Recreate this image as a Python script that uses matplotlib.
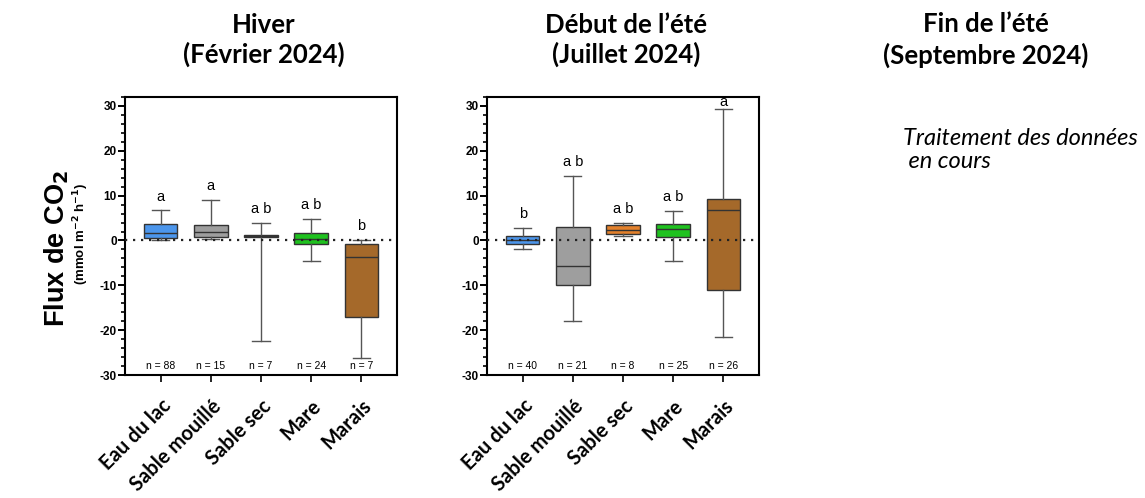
import numpy as np
import matplotlib
matplotlib.use("Agg")
import matplotlib.pyplot as plt
from matplotlib.ticker import MultipleLocator

# sites (x categories)
sites = ["Eau du lac", "Sable mouillé", "Sable sec", "Mare", "Marais"]
colors = ["#4C96EC", "#9E9E9E", "#E3812C", "#1FC21F", "#A5692A"]

# Hiver (Fevrier 2024): whisker low, q1, median, q3, whisker high
winter_lo = [0.1, 0.3, -22.4, -4.5, -26.3]
winter_q1 = [0.6, 0.7, 0.8, -0.7, -17.0]
winter_med = [1.6, 1.9, 1.0, 0.3, -3.6]
winter_q3 = [3.7, 3.4, 1.3, 1.6, -0.7]
winter_hi = [6.7, 9.1, 3.9, 4.8, 0.2]
winter_letters = ["a", "a", "a b", "a b", "b"]
winter_n = [88, 15, 7, 24, 7]

# Debut de l'ete (Juillet 2024)
summer_lo = [-1.9, -17.9, 1.1, -4.5, -21.5]
summer_q1 = [-0.7, -9.9, 1.5, 0.75, -11.0]
summer_med = [0.2, -5.8, 2.4, 2.5, 6.7]
summer_q3 = [1.1, 3.0, 3.4, 3.7, 9.2]
summer_hi = [2.8, 14.3, 4.0, 6.5, 29.3]
summer_letters = ["b", "a b", "a b", "a b", "a"]
summer_n = [40, 21, 8, 25, 26]

plt.rcParams['font.family'] = ['Liberation Sans', 'DejaVu Sans']
plt.rcParams['axes.unicode_minus'] = False
TITLE_FONT = ['Lato', 'DejaVu Sans']
W, H = 1145, 498

fig = plt.figure(figsize=(11.45, 4.98), dpi=100)
ax1 = fig.add_axes([125 / W, 1 - 375 / H, 272 / W, 278 / H])
ax2 = fig.add_axes([487 / W, 1 - 375 / H, 272 / W, 278 / H])


def draw_panel(ax, lo, q1, med, q3, hi, letters, ns, title):
    stats = []
    for i in range(len(sites)):
        stats.append({"whislo": lo[i], "q1": q1[i], "med": med[i],
                      "q3": q3[i], "whishi": hi[i], "fliers": []})
    pos = np.arange(len(sites))
    bp = ax.bxp(stats, positions=pos, widths=0.67, capwidths=0.34,
                patch_artist=True, showfliers=False,
                boxprops=dict(edgecolor="#333333", linewidth=1.0),
                medianprops=dict(color="#333333", linewidth=1.0),
                whiskerprops=dict(color="#555555", linewidth=1.0),
                capprops=dict(color="#555555", linewidth=1.0))
    for patch, c in zip(bp["boxes"], colors):
        patch.set_facecolor(c)
    ax.axhline(0, color="#222222", linestyle=(0, (1, 2.6)), linewidth=1.6, zorder=4)

    for i in range(len(sites)):
        ly = min(hi[i] + 3.1, 30.8)
        ax.text(pos[i], ly, letters[i], ha="center", va="center", fontsize=10.5)
        ax.text(pos[i], -28.0, f"n = {ns[i]}", ha="center", va="center", fontsize=7.5)

    ax.set_xlim(-0.71, 4.71)
    ax.set_ylim(-30, 32)
    ax.yaxis.set_major_locator(MultipleLocator(10))
    ax.yaxis.set_minor_locator(MultipleLocator(2))
    ax.tick_params(axis="y", which="major", length=5, width=1.4, labelsize=8.5, pad=1)
    ax.tick_params(axis="y", which="minor", length=3, width=1.2)
    ax.tick_params(axis="x", length=5, width=1.2, pad=10)
    for lab in ax.get_yticklabels():
        lab.set_fontweight("bold")
    ax.set_xticks(pos)
    ax.set_xticklabels(sites, rotation=45, ha="right", rotation_mode="anchor",
                       fontsize=14.5, fontweight="bold", family=TITLE_FONT)
    for sp in ax.spines.values():
        sp.set_linewidth(1.5)
    bb = ax.get_position()
    fig.text(bb.x0 + bb.width / 2 + 3 / W, 1 - 40 / H, title, ha="center", va="center",
             fontsize=18.5, fontweight="bold", family=TITLE_FONT, linespacing=1.2)


draw_panel(ax1, winter_lo, winter_q1, winter_med, winter_q3, winter_hi,
           winter_letters, winter_n, "Hiver\n(Février 2024)")
draw_panel(ax2, summer_lo, summer_q1, summer_med, summer_q3, summer_hi,
           summer_letters, summer_n, "Début de l’été\n(Juillet 2024)")

fig.text(57 / W, 1 - 248 / H, "Flux de CO$_\\mathbf{2}$", rotation=90,
         ha="center", va="center", fontsize=19.5, fontweight="bold")
fig.text(81 / W, 1 - 234 / H, "(mmol m$^{\\mathbf{-2}}$ h$^{\\mathbf{-1}}$)",
         rotation=90, ha="center", va="center", fontsize=9.5, fontweight="bold")

fig.text(986 / W, 1 - 40 / H, "Fin de l’été\n(Septembre 2024)", ha="center",
         va="center", fontsize=18.5, fontweight="bold", family=TITLE_FONT, linespacing=1.3)
fig.text(903 / W, 1 - 150 / H, "Traitement des données\n en cours", ha="left",
         va="center", fontsize=17, style="italic", family=TITLE_FONT, linespacing=1.1)

fig.savefig("out.png", dpi=100)
